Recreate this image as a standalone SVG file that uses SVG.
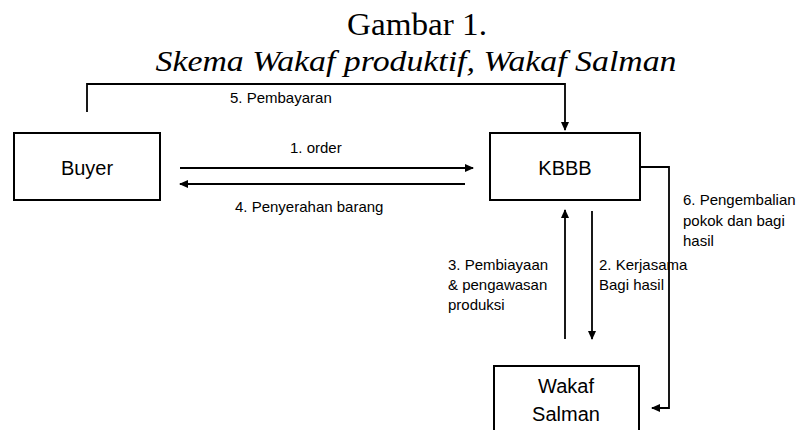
<svg xmlns="http://www.w3.org/2000/svg" width="802" height="430" viewBox="0 0 802 430">
<style>
.box{fill:#fff;stroke:#000;stroke-width:2}
.lbl{font-family:"Liberation Sans",Arial,sans-serif;font-size:20px;fill:#000}
.sm{font-family:"Liberation Sans",Arial,sans-serif;font-size:15px;fill:#000}
.ttl{font-family:"Liberation Serif","Times New Roman",serif;fill:#000}
.ln{fill:none;stroke:#000;stroke-width:1.8}
.arr{fill:none;stroke:#000;stroke-width:1.8;marker-end:url(#ah)}
</style>
<defs>
<marker id="ah" markerUnits="userSpaceOnUse" markerWidth="9" markerHeight="8" refX="8" refY="4" orient="auto">
<path d="M0,0 L9,4 L0,8 z" fill="#000"/>
</marker>
</defs>
<rect width="802" height="430" fill="#fff"/>
<g id="title">
<text class="ttl" x="417" y="35" font-size="31" text-anchor="middle" textLength="140" lengthAdjust="spacingAndGlyphs">Gambar 1.</text>
<text class="ttl" x="416" y="71" font-size="29" font-style="italic" text-anchor="middle" textLength="521" lengthAdjust="spacingAndGlyphs">Skema Wakaf produktif, Wakaf Salman</text>
</g>
<g id="buyer">
<rect class="box" x="14" y="133" width="146" height="67"/>
<text class="lbl" x="87" y="175" text-anchor="middle">Buyer</text>
</g>
<g id="kbbb">
<rect class="box" x="490" y="133" width="150" height="67"/>
<text class="lbl" x="565" y="175" text-anchor="middle">KBBB</text>
</g>
<g id="wakaf-salman">
<rect class="box" x="494" y="366" width="145" height="90"/>
<text class="lbl" x="566" y="393" text-anchor="middle">Wakaf</text>
<text class="lbl" x="566" y="421" text-anchor="middle">Salman</text>
</g>
<g id="connectors">
<path class="arr" d="M87,112 V84 H565 V130"/>
<text class="sm" x="230" y="103">5. Pembayaran</text>
<path class="arr" d="M180,168 H473"/>
<text class="sm" x="290" y="153">1. order</text>
<path class="arr" d="M465,184 H180"/>
<text class="sm" x="235" y="212">4. Penyerahan barang</text>
<path class="arr" d="M641,167 H669 V408 H652"/>
<text class="sm" x="683" y="205">6. Pengembalian</text>
<text class="sm" x="683" y="226">pokok dan bagi</text>
<text class="sm" x="683" y="246">hasil</text>
<path class="arr" d="M565,339 V210"/>
<text class="sm" x="448" y="270">3. Pembiayaan</text>
<text class="sm" x="448" y="290">&amp; pengawasan</text>
<text class="sm" x="448" y="310">produksi</text>
<path class="arr" d="M592,211 V339"/>
<text class="sm" x="599" y="270">2. Kerjasama</text>
<text class="sm" x="599" y="290">Bagi hasil</text>
</g>
</svg>
